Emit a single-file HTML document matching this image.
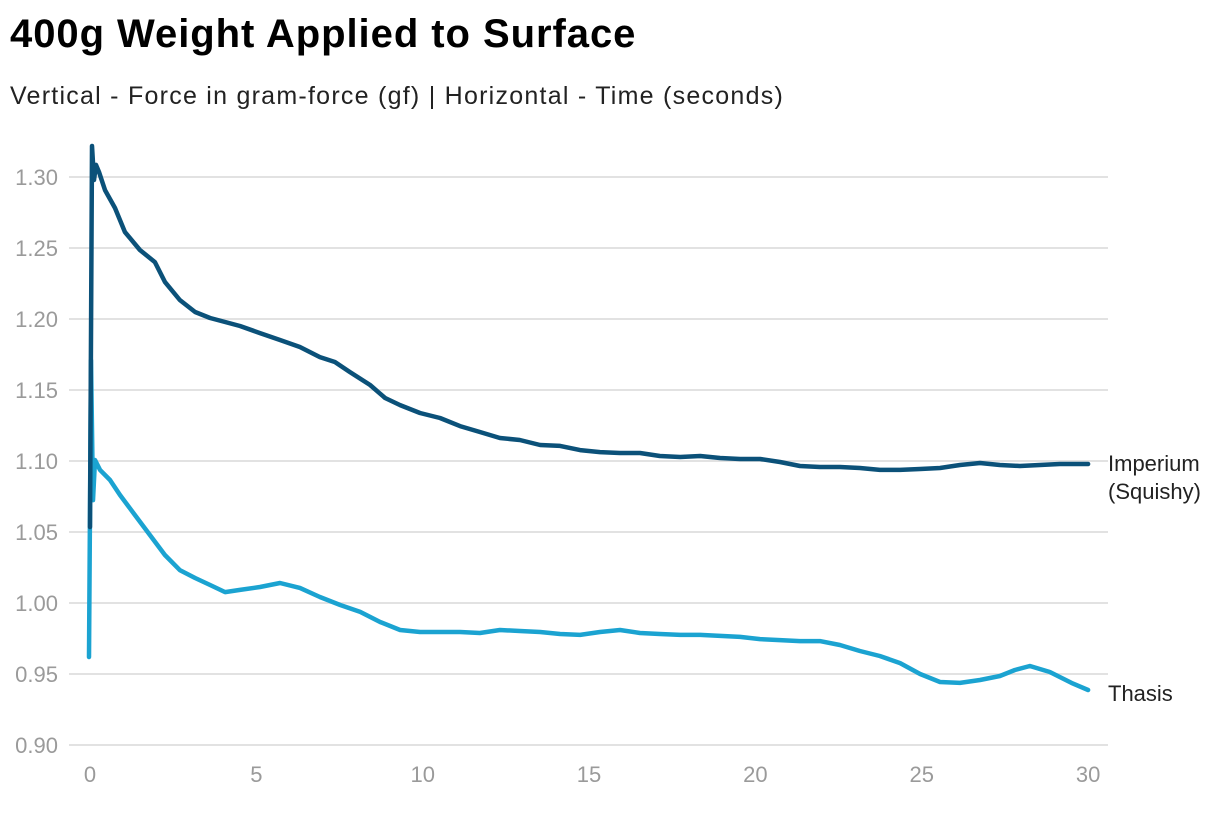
<!DOCTYPE html>
<html><head><meta charset="utf-8"><style>
body{margin:0;background:#fff;font-family:"Liberation Sans",sans-serif;}
#wrap{position:relative;width:1220px;height:822px;overflow:hidden;}
h1{position:absolute;left:10px;top:12px;margin:0;font-size:40px;font-weight:bold;color:#000;letter-spacing:0.95px}
.sub{position:absolute;left:10px;top:82px;font-size:25px;color:#222;letter-spacing:1.25px}
svg{position:absolute;left:0;top:0}
</style></head><body>
<div id="wrap">
<h1>400g Weight Applied to Surface</h1>
<div class="sub">Vertical - Force in gram-force (gf) | Horizontal - Time (seconds)</div>
<svg id="chart" width="1220" height="822"></svg>
</div>
<script>
const yTicks=[0.90,0.95,1.00,1.05,1.10,1.15,1.20,1.25,1.30];
const xTicks=[0,5,10,15,20,25,30];
const imperiumT=[0,0.06,0.12,0.18,0.27,0.45,0.75,1.05,1.5,1.95,2.25,2.7,3.16,3.61,4.06,4.51,5.11,5.71,6.31,6.91,7.36,7.81,8.42,8.87,9.32,9.92,10.52,11.12,11.72,12.32,12.92,13.53,14.13,14.73,15.33,15.93,16.53,17.13,17.74,18.34,18.94,19.54,20.14,20.74,21.34,21.94,22.54,23.14,23.74,24.35,24.95,25.55,26.15,26.75,27.35,27.95,28.55,29.15,30];
const imperiumV=[1.0535,1.3218,1.2979,1.3085,1.3035,1.2908,1.2782,1.2613,1.2486,1.2401,1.2261,1.2134,1.2049,1.2007,1.1979,1.1951,1.1901,1.1852,1.1803,1.1732,1.1697,1.1627,1.1535,1.1444,1.1394,1.1338,1.1303,1.1246,1.1204,1.1162,1.1148,1.1113,1.1106,1.1077,1.1063,1.1056,1.1056,1.1035,1.1028,1.1035,1.1021,1.1014,1.1014,1.0993,1.0965,1.0958,1.0958,1.0951,1.0937,1.0937,1.0944,1.0951,1.0972,1.0986,1.0972,1.0965,1.0972,1.0979,1.0979];
const thasisT=[-0.03,0.03,0.09,0.15,0.3,0.6,0.9,1.35,1.8,2.25,2.7,3.16,3.61,4.06,4.51,5.11,5.71,6.31,6.91,7.52,8.12,8.72,9.32,9.92,10.52,11.12,11.72,12.32,12.92,13.53,14.13,14.73,15.33,15.93,16.53,17.13,17.74,18.34,18.94,19.54,20.14,20.74,21.34,21.94,22.54,23.14,23.74,24.35,24.95,25.55,26.15,26.75,27.35,27.8,28.25,28.85,29.5,30];
const thasisV=[0.962,1.171,1.0725,1.1007,1.0937,1.0866,1.0761,1.062,1.0479,1.0338,1.0232,1.0176,1.0127,1.0077,1.0092,1.0113,1.0141,1.0106,1.0042,0.9986,0.9937,0.9866,0.981,0.9796,0.9796,0.9796,0.9789,0.981,0.9803,0.9796,0.9782,0.9775,0.9796,0.981,0.9789,0.9782,0.9775,0.9775,0.9768,0.9761,0.9746,0.9739,0.9732,0.9732,0.9704,0.9662,0.9627,0.9577,0.95,0.9444,0.9437,0.9458,0.9486,0.9528,0.9556,0.9514,0.9437,0.9387];
const NS="http://www.w3.org/2000/svg";
const svg=document.getElementById('chart');
const X=t=>90+t*33.27;
const Y=v=>745-(v-0.9)*1420;
function mk(tag,attrs){const e=document.createElementNS(NS,tag);for(const k in attrs)e.setAttribute(k,attrs[k]);svg.appendChild(e);return e;}
yTicks.forEach(v=>{
  const l=mk('line',{x1:69,x2:1108,y1:Y(v),y2:Y(v),stroke:'#e2e2e2','stroke-width':2});
  
  
  const t=mk('text',{x:58,y:Y(v)+8,'text-anchor':'end','font-size':22,fill:'#9a9a9a','font-family':'Liberation Sans, sans-serif'});
  t.textContent=v.toFixed(2);
  
  
});
xTicks.forEach(v=>{
  const t=mk('text',{x:X(v),y:782,'text-anchor':'middle','font-size':22,fill:'#9a9a9a','font-family':'Liberation Sans, sans-serif'});
  t.textContent=v;
  
  
});
function series(T,V,color,name){
  const d=T.map((t,i)=>(i?'L':'M')+X(t).toFixed(1)+','+Y(V[i]).toFixed(1)).join('');
  const p=mk('path',{d:d,fill:'none',stroke:color,'stroke-width':4.5,'stroke-linejoin':'round','stroke-linecap':'round'});
  
  
}
series(thasisT,thasisV,'#1ba3d1','thasis-line');
series(imperiumT,imperiumV,'#0b5179','imperium-line');
function label(lines,y,name){
  lines.forEach((s,i)=>{
    const t=mk('text',{x:1108,y:y+i*28,'font-size':22,fill:'#222','font-family':'Liberation Sans, sans-serif'});
    t.textContent=s;
    
    
  });
}
label(['Imperium','(Squishy)'],471,'imperium-label');
label(['Thasis'],701,'thasis-label');
</script>
</body></html>
